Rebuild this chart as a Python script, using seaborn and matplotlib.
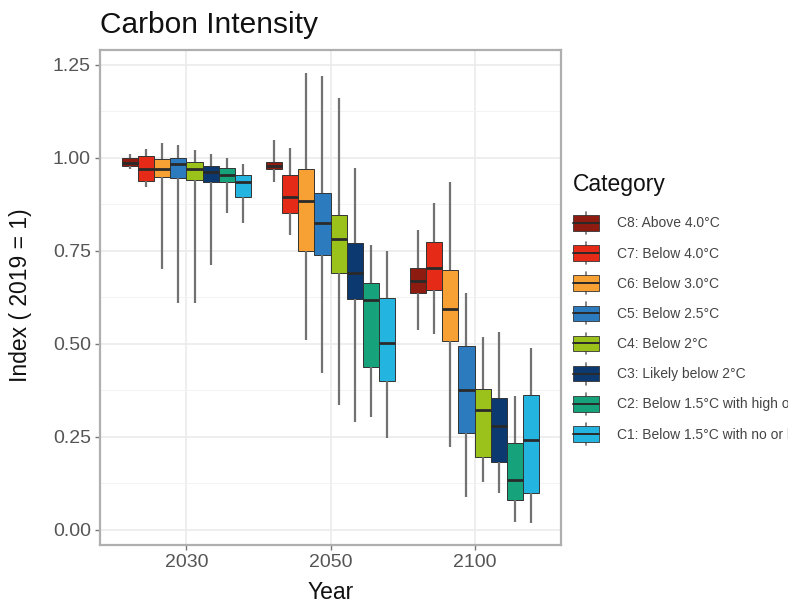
import numpy as np
import pandas as pd
import matplotlib
matplotlib.use("Agg")
import matplotlib.pyplot as plt
import seaborn as sns
from matplotlib.legend_handler import HandlerBase
from matplotlib.lines import Line2D
from matplotlib.patches import Rectangle, Patch
from matplotlib.ticker import MultipleLocator

years = ["2030", "2050", "2100"]
categories = [
    "C8: Above 4.0°C",
    "C7: Below 4.0°C",
    "C6: Below 3.0°C",
    "C5: Below 2.5°C",
    "C4: Below 2°C",
    "C3: Likely below 2°C",
    "C2: Below 1.5°C with high overshoot",
    "C1: Below 1.5°C with no or limited overshoot",
]
colors = ["#8E1B10", "#E52A17", "#F7A033", "#2C7BBF",
          "#9BC21A", "#0C3970", "#16A27A", "#23B4E0"]

# rows: years (2030, 2050, 2100); columns: C8 ... C1
whisker_low = [
    [0.968, 0.922, 0.700, 0.610, 0.610, 0.710, 0.850, 0.825],
    [0.935, 0.793, 0.510, 0.422, 0.336, 0.290, 0.303, 0.247],
    [0.538, 0.527, 0.223, 0.089, 0.129, 0.099, 0.022, 0.019],
]
quart1 = [
    [0.976, 0.938, 0.949, 0.946, 0.941, 0.935, 0.935, 0.895],
    [0.968, 0.852, 0.750, 0.737, 0.690, 0.621, 0.438, 0.400],
    [0.637, 0.645, 0.508, 0.261, 0.196, 0.183, 0.081, 0.099],
]
median = [
    [0.985, 0.970, 0.970, 0.984, 0.968, 0.960, 0.954, 0.935],
    [0.976, 0.895, 0.882, 0.825, 0.782, 0.690, 0.616, 0.503],
    [0.667, 0.704, 0.594, 0.376, 0.323, 0.280, 0.134, 0.242],
]
quart3 = [
    [0.998, 1.003, 0.997, 1.000, 0.989, 0.978, 0.973, 0.952],
    [0.987, 0.954, 0.968, 0.906, 0.847, 0.771, 0.664, 0.624],
    [0.704, 0.774, 0.699, 0.495, 0.379, 0.355, 0.234, 0.363],
]
whisker_high = [
    [1.010, 1.024, 1.040, 1.035, 1.020, 1.010, 1.000, 0.984],
    [1.046, 1.027, 1.228, 1.218, 1.161, 0.973, 0.766, 0.750],
    [0.806, 0.879, 0.935, 0.637, 0.519, 0.532, 0.360, 0.489],
]

# Long-form table: five values per box reproduce the five-number summary
rows = []
for i, yr in enumerate(years):
    for j, cat in enumerate(categories):
        for arr in (whisker_low, quart1, median, quart3, whisker_high):
            rows.append({"Year": yr, "Category": cat, "Index": arr[i][j]})
df = pd.DataFrame(rows)

sns.set_theme(style="white")
plt.rcParams["font.family"] = ["Liberation Sans", "DejaVu Sans"]

fig = plt.figure(figsize=(7.88, 6.05), dpi=100)
ax = fig.add_axes([100 / 788, 60 / 605, 461 / 788, 495 / 605])

sns.boxplot(
    data=df, x="Year", y="Index", hue="Category",
    order=years, hue_order=categories, palette=colors,
    saturation=1, width=0.9, whis=(0, 100), showfliers=False,
    showcaps=False, linecolor="#333333", linewidth=0.7,
    whiskerprops={"color": "#727272", "linewidth": 1.6},
    medianprops={"color": "#2a2a2a", "linewidth": 2.0},
    legend=False, ax=ax,
)

ax.set_xlim(-0.6, 2.6)
ax.set_ylim(-0.041, 1.289)
ax.yaxis.set_major_locator(MultipleLocator(0.25))
ax.yaxis.set_minor_locator(MultipleLocator(0.125))
ax.set_yticklabels([f"{v:.2f}" for v in ax.get_yticks()])
ax.grid(True, which="major", axis="both", color="#EBEBEB", linewidth=1.2, zorder=0)
ax.grid(True, which="minor", axis="y", color="#F3F3F3", linewidth=0.7, zorder=0)
ax.set_axisbelow(True)
for s in ax.spines.values():
    s.set_color("#AFAFAF")
    s.set_linewidth(1.6)

ax.tick_params(axis="both", which="major", labelsize=14, labelcolor="#555555",
               color="#777777", length=3.5, width=1.0, pad=3, direction="out",
               left=True, bottom=True)
ax.tick_params(axis="y", which="minor", left=False)

ax.set_xlabel("Year", fontsize=16.5, color="#111111")
ax.set_ylabel("Index ( 2019 = 1)", fontsize=16.5, color="#111111")
ax.xaxis.set_label_coords(0.5, -0.072)
ax.yaxis.set_label_coords(-0.148, 0.505)

fig.text(100 / 788, 1 - 33 / 605, "Carbon Intensity", fontsize=21.5,
         ha="left", va="baseline", color="#111111")


class BoxHandler(HandlerBase):
    def create_artists(self, legend, orig_handle, xdescent, ydescent,
                       width, height, fontsize, trans):
        fc = orig_handle.get_facecolor()
        x0, y0 = -xdescent, -ydescent
        cx = x0 + width / 2
        whisk = Line2D([cx, cx], [y0 - height * 0.2, y0 + height * 1.2],
                       color="#727272", lw=1.2, transform=trans)
        rect = Rectangle((x0, y0), width, height, facecolor=fc,
                         edgecolor="#333333", lw=0.6, transform=trans)
        med = Line2D([x0, x0 + width], [y0 + height / 2] * 2,
                     color="#2a2a2a", lw=1.4, transform=trans)
        return [whisk, rect, med]


fig.text(573 / 788, 1 - 191 / 605, "Category", fontsize=16.5,
         ha="left", va="baseline", color="#111111")

handles = [Patch(facecolor=c) for c in colors]
leg = fig.legend(
    handles, categories,
    loc="upper left", bbox_to_anchor=(573 / 788, 1 - 215 / 605),
    frameon=False, fontsize=10,
    handler_map={Patch: BoxHandler()},
    handlelength=1.9, handleheight=1.35, labelspacing=1.05,
    handletextpad=1.3, borderpad=0, borderaxespad=0,
)
for t in leg.get_texts():
    t.set_color("#444444")

fig.savefig("out.png", dpi=100)
